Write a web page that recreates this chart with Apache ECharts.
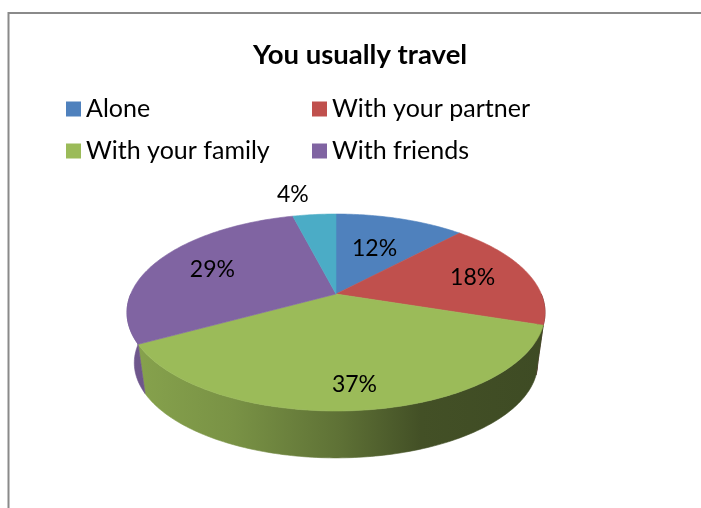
<!DOCTYPE html>
<html><head><meta charset="utf-8">
<script src="https://cdn.jsdelivr.net/npm/echarts@6/dist/echarts.min.js"></script>
<style>html,body{margin:0;padding:0;background:#fff}#c{width:701px;height:508px}</style>
</head><body><div id="c"></div>
<script>
// ---- data ----
const titleText = 'You usually travel';
const categories = ['Alone', 'With your partner', 'With your family', 'With friends', 'Other'];
const values = [12, 18, 37, 29, 4];
const colors = ['#4f81bd', '#c0504d', '#9bbb59', '#8064a2', '#4bacc6'];
const legendItems = ['Alone', 'With your partner', 'With your family', 'With friends'];

// ---- style / layout ----
const FONT = 'Lato, "Open Sans", sans-serif';
const labelRadius = [0.56, 0.71, 0.81, 0.69, 1.32];
const G = {cx: 336, cy: 294, rx: 205.3, ry: 95, k: 0.188, depth: 51, shrink: 0.965};
const legendPos = [[66, 95], [312, 95], [66, 137], [312, 137]];

function proj(r, deg, bottom) {
  const t = deg * Math.PI / 180;
  const u = r * Math.sin(t), v = r * Math.cos(t);
  const d = 1 + G.k * v;
  const s = bottom ? G.shrink : 1;
  return [G.cx + s * G.rx * u / d, G.cy + (bottom ? G.depth : 0) - s * G.ry * v / d];
}
function shade(hex, f) {
  const n = parseInt(hex.slice(1), 16);
  const r = (n >> 16) & 255, g = (n >> 8) & 255, b = n & 255;
  return 'rgb(' + Math.round(r * f) + ',' + Math.round(g * f) + ',' + Math.round(b * f) + ')';
}
const total = values.reduce((a, b) => a + b, 0);
const starts = [];
let acc = 0;
values.forEach(v => { starts.push(acc); acc += v; });

function renderItem(params, api) {
  const i = params.seriesIndex;
  const s = api.value(0), v = api.value(1);
  const a0 = s / total * 360, a1 = (s + v) / total * 360;
  const color = colors[i];
  const children = [];
  const top = [[G.cx, G.cy]];
  const n = Math.max(2, Math.ceil(a1 - a0));
  for (let j = 0; j <= n; j++) top.push(proj(1, a0 + (a1 - a0) * j / n));
  children.push({type: 'polygon', z2: 5, shape: {points: top},
    style: {fill: color, stroke: color, lineWidth: 0.6}});
  const w0 = Math.max(a0, 90), w1 = Math.min(a1, 270);
  if (w1 > w0) {
    const m = Math.max(2, Math.ceil(w1 - w0));
    const pts = [];
    for (let j = 0; j <= m; j++) pts.push(proj(1, w0 + (w1 - w0) * j / m));
    for (let j = m; j >= 0; j--) pts.push(proj(1, w0 + (w1 - w0) * j / m, true));
    const grad = new echarts.graphic.LinearGradient(130, 0, 545, 0, [
      {offset: 0, color: shade(color, 0.87)},
      {offset: 0.25, color: shade(color, 0.78)},
      {offset: 0.5, color: shade(color, 0.61)},
      {offset: 0.7, color: shade(color, 0.43)},
      {offset: 1, color: shade(color, 0.40)}
    ], true);
    children.push({type: 'polygon', z2: 1, shape: {points: pts},
      style: {fill: grad, stroke: grad, lineWidth: 0.6}});
  }
  const mid = (a0 + a1) / 2;
  const lr = labelRadius[i];
  const p = proj(lr, mid);
  children.push({type: 'text', z2: 10, x: p[0], y: p[1],
    style: {text: v + '%', fill: '#000', font: '23px ' + FONT,
      align: lr > 1 ? 'right' : 'center', verticalAlign: 'middle'}});
  return {type: 'group', children};
}

const series = categories.map((name, i) => ({
  type: 'custom', name, coordinateSystem: 'none', renderItem, silent: true,
  itemStyle: {color: colors[i]},
  data: [[starts[i], values[i]]]
}));

const legend = legendItems.map((name, i) => ({
  data: [name], left: legendPos[i][0], top: legendPos[i][1], padding: 0,
  itemWidth: 15, itemHeight: 15, icon: 'rect', selectedMode: false,
  textStyle: {fontFamily: FONT, fontSize: 25, color: '#000', lineHeight: 28}
}));

const chart = echarts.init(document.getElementById('c'), null, {renderer: 'canvas'});
chart.setOption({
  animation: false,
  backgroundColor: '#fff',
  title: {text: titleText, left: 253, top: 41, padding: 0,
    textStyle: {fontFamily: FONT, fontWeight: 'bold', fontSize: 27.5, color: '#000'}},
  legend,
  graphic: [{type: 'rect', silent: true, shape: {x: 8.5, y: 13, width: 720, height: 520},
    style: {fill: 'none', stroke: '#8a8a8a', lineWidth: 2}}],
  series
});
</script>
</body></html>
